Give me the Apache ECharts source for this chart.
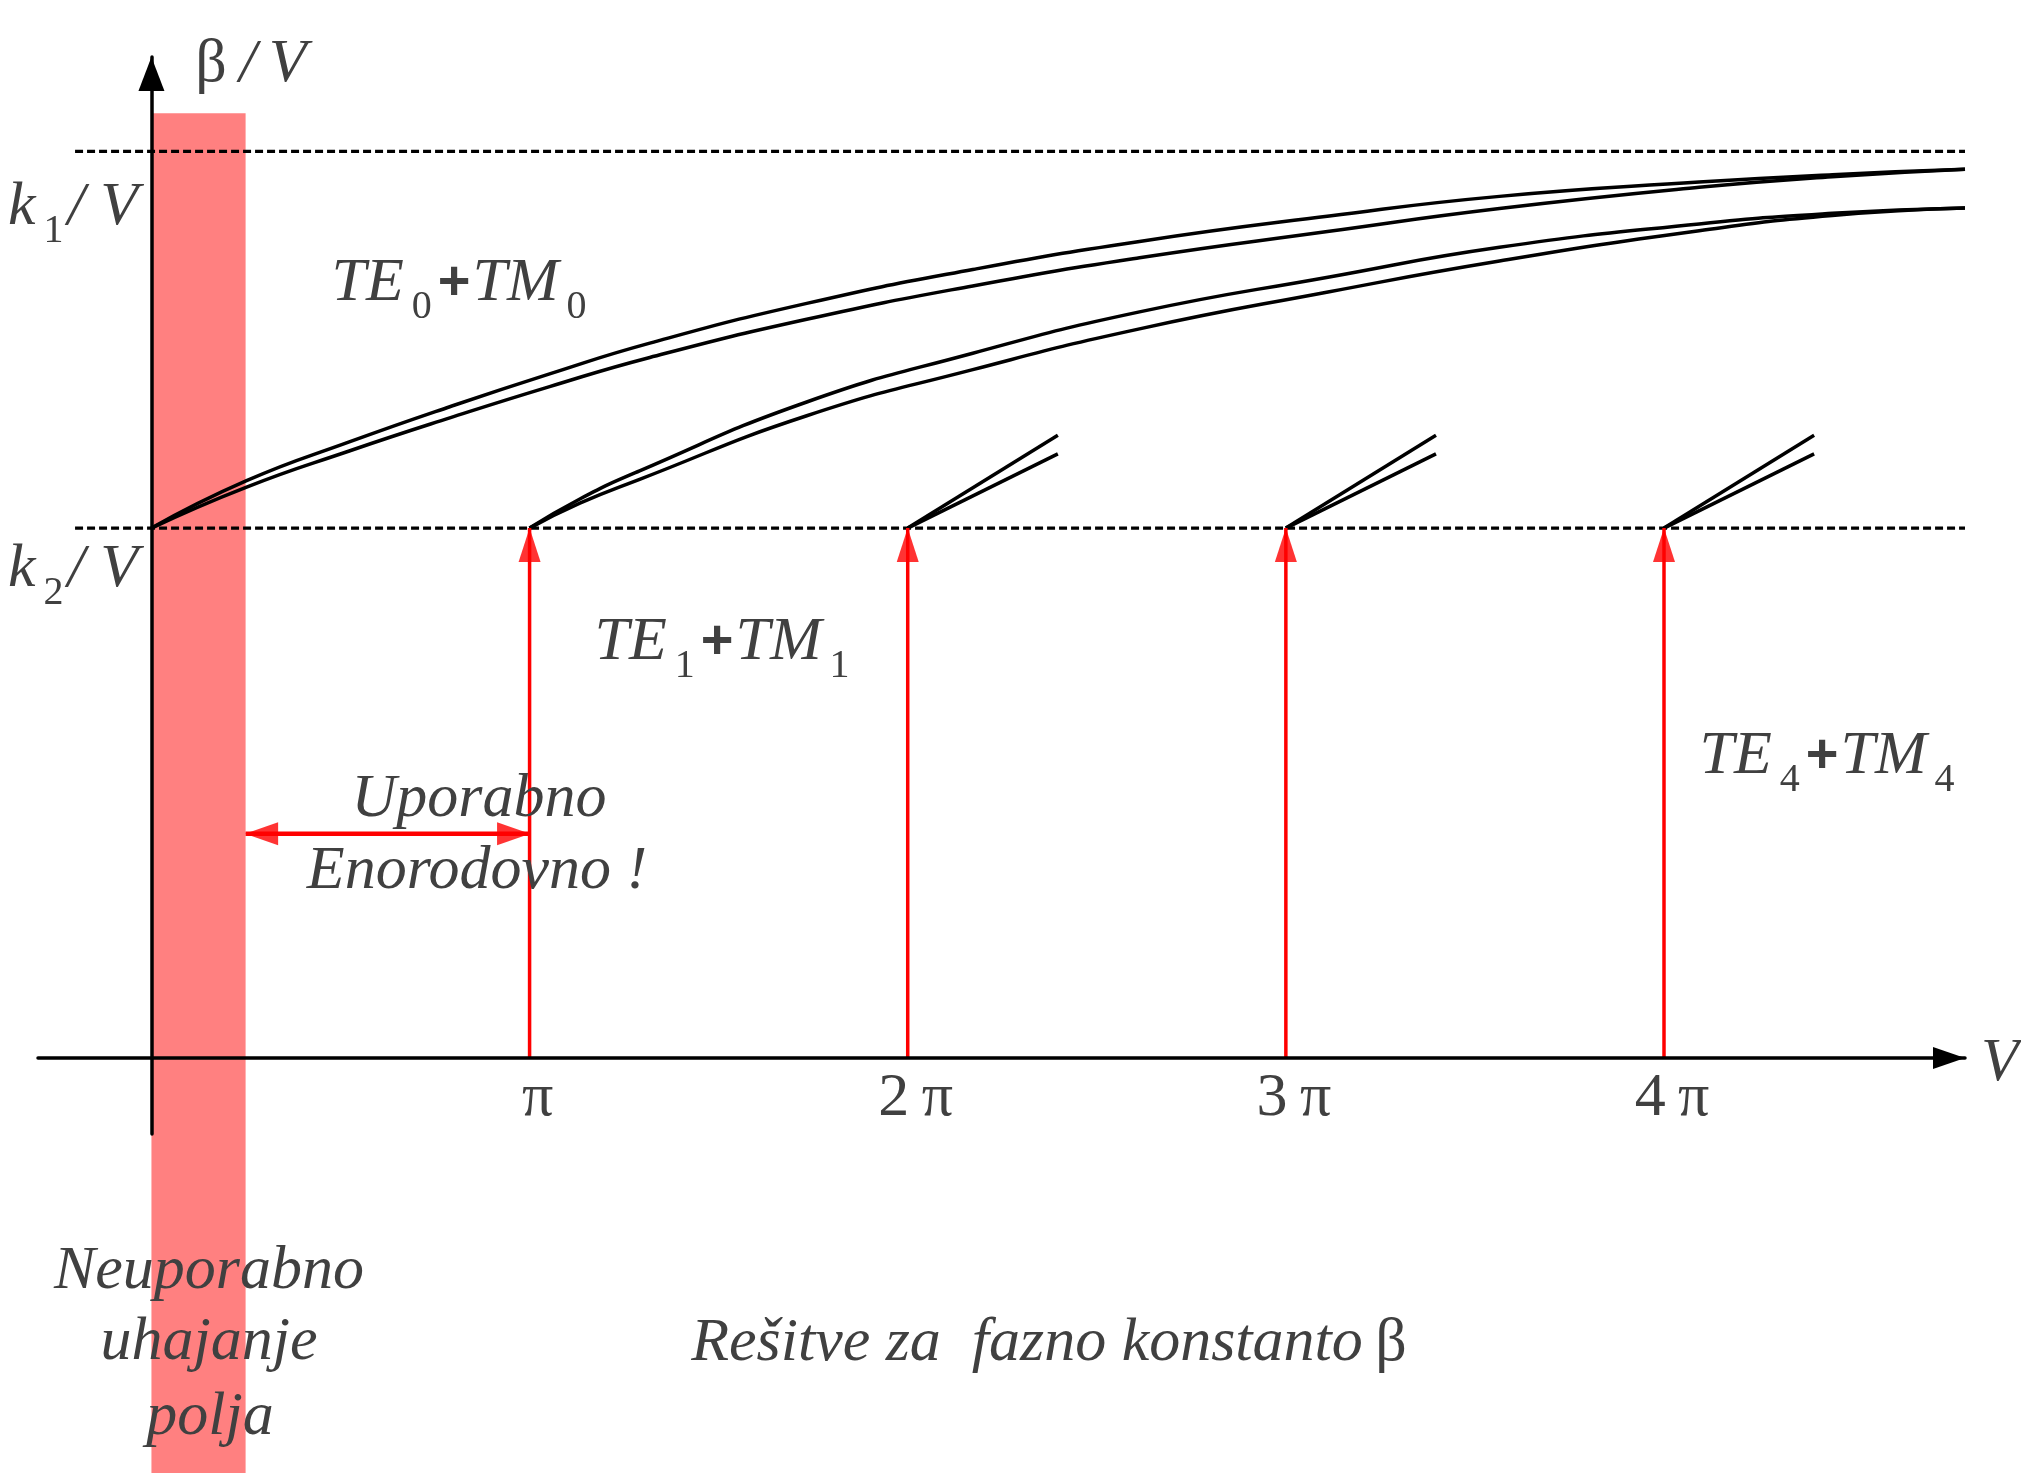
<!DOCTYPE html>
<html>
<head>
<meta charset="utf-8">
<title>Rešitve za fazno konstanto β</title>
<script src="https://cdn.jsdelivr.net/npm/echarts@6/dist/echarts.min.js"></script>
<style>
    html, body { margin: 0; padding: 0; background: #fff; }
    #chart { width: 2021px; height: 1473px; }
</style>
</head>
<body>
<div id="chart"></div>
<script>
// V axis in units of pi
var vTicks = [1, 2, 3, 4];
var vTickLabels = ['π', '2\u2009π', '3\u2009π', '4\u2009π'];

// beta/V levels (k2/V taken as 1)
var k1Level = 1.711;
var k2Level = 1.0;
var levelSpan = [-0.202, 4.796];

// TE0 + TM0 pair
var mode0V = [0, 0.250, 0.525, 0.789, 1.053, 1.318, 1.733, 2.172, 2.613, 3.115, 3.565, 4.093, 4.445, 4.796];
var te0Beta = [1.000, 1.089, 1.163, 1.229, 1.291, 1.349, 1.424, 1.488, 1.541, 1.589, 1.626, 1.653, 1.667, 1.677];
var tm0Beta = [1.000, 1.077, 1.146, 1.208, 1.267, 1.322, 1.394, 1.457, 1.510, 1.560, 1.603, 1.643, 1.663, 1.677];

// TE1 + TM1 pair
var mode1V = [1.000, 1.133, 1.291, 1.733, 2.172, 2.613, 3.115, 3.565, 4.093, 4.445, 4.796];
var te1Beta = [1.000, 1.055, 1.108, 1.238, 1.330, 1.408, 1.474, 1.530, 1.574, 1.594, 1.604];
var tm1Beta = [1.000, 1.047, 1.092, 1.212, 1.299, 1.376, 1.446, 1.504, 1.561, 1.590, 1.604];

// higher modes: only the start is drawn
var stubStartV = [2, 3, 4];
var stubLenV = 0.397;
var stubTeBeta = 1.175;
var stubTmBeta = 1.140;

// leakage band and the single mode range
var leakV = [0, 0.249];
var leakBeta = [-0.783, 1.783];
var singleModeBeta = 0.423;

var ink = '#404040';
var serif = "'Liberation Serif', 'Times New Roman', serif";

function pairs(xs, ys) {
    var out = [];
    for (var i = 0; i < xs.length; i++) {
        out.push([xs[i], ys[i]]);
    }
    return out;
}

function blackLine(data, dashed) {
    return {
        type: 'line',
        data: data,
        symbol: 'none',
        smooth: dashed ? false : 0.5,
        clip: false,
        z: 3,
        lineStyle: {color: '#000', width: dashed ? 3.2 : 3.5, type: dashed ? [8, 4] : 'solid'}
    };
}

function redLine(data, w) {
    return {
        type: 'line',
        data: data,
        symbol: 'none',
        clip: false,
        z: 4,
        lineStyle: {color: '#ff0000', width: w}
    };
}

var series = [];

// leakage band
series.push({
    type: 'custom',
    z: 1,
    silent: true,
    clip: false,
    encode: {x: [0, 2], y: [1, 3]},
    data: [[leakV[0], leakBeta[0], leakV[1], leakBeta[1]]],
    renderItem: function (params, api) {
        var p0 = api.coord([api.value(0), api.value(3)]);
        var p1 = api.coord([api.value(2), api.value(1)]);
        return {
            type: 'rect',
            shape: {x: p0[0], y: p0[1], width: p1[0] - p0[0], height: p1[1] - p0[1]},
            style: {fill: '#ff8080'}
        };
    }
});

// k1/V and k2/V levels
series.push(blackLine([[levelSpan[0], k1Level], [levelSpan[1], k1Level]], true));
series.push(blackLine([[levelSpan[0], k2Level], [levelSpan[1], k2Level]], true));

// mode curves
series.push(blackLine(pairs(mode0V, te0Beta)));
series.push(blackLine(pairs(mode0V, tm0Beta)));
series.push(blackLine(pairs(mode1V, te1Beta)));
series.push(blackLine(pairs(mode1V, tm1Beta)));
for (var i = 0; i < stubStartV.length; i++) {
    var v0 = stubStartV[i];
    series.push(blackLine([[v0, k2Level], [v0 + stubLenV, stubTeBeta]]));
    series.push(blackLine([[v0, k2Level], [v0 + stubLenV, stubTmBeta]]));
}

// red cutoff arrows
for (var j = 0; j < vTicks.length; j++) {
    series.push(redLine([[vTicks[j], 0], [vTicks[j], k2Level]], 3.5));
}
series.push({
    type: 'scatter',
    data: vTicks.map(function (v) { return [v, k2Level]; }),
    symbol: 'triangle',
    symbolSize: [22, 34],
    symbolOffset: [0, 17],
    clip: false,
    z: 5,
    itemStyle: {color: '#ff0000'}
});

// single mode range arrow
series.push(redLine([[leakV[1], singleModeBeta], [vTicks[0], singleModeBeta]], 4.5));
series.push({
    type: 'scatter',
    data: [[leakV[1], singleModeBeta]],
    symbol: 'path://M3,0L0,1L3,2Z',
    symbolSize: [33, 23],
    symbolOffset: [16, 0],
    clip: false,
    z: 5,
    itemStyle: {color: '#ff0000'}
});
series.push({
    type: 'scatter',
    data: [[vTicks[0], singleModeBeta]],
    symbol: 'path://M0,0L3,1L0,2Z',
    symbolSize: [33, 23],
    symbolOffset: [-16, 0],
    clip: false,
    z: 5,
    itemStyle: {color: '#ff0000'}
});

// texts
var rich = {
    i: {fontFamily: serif, fontStyle: 'italic', fontSize: 62, fill: ink, verticalAlign: 'middle'},
    r: {fontFamily: serif, fontSize: 62, fill: ink, verticalAlign: 'middle'},
    b: {fontFamily: "'Liberation Sans', Arial, sans-serif", fontWeight: 'bold', fontSize: 56, fill: ink, verticalAlign: 'middle', padding: [0, 2, 0, 2]},
    s: {fontFamily: serif, fontSize: 40, fill: ink, verticalAlign: 'middle', padding: [46, 4, 0, 8]}
};

var notes = [
    {x: 251, y: 65, text: '{r|β}{i|\u2009/\u2009V}'},
    {x: 73, y: 208, text: '{i|k}{s|1}{i|/ V}'},
    {x: 73, y: 570, text: '{i|k}{s|2}{i|/ V}'},
    {x: 461, y: 284, text: '{i|TE}{s|0}{b|+}{i|TM}{s|0}'},
    {x: 724, y: 643, text: '{i|TE}{s|1}{b|+}{i|TM}{s|1}'},
    {x: 1829, y: 757, text: '{i|TE}{s|4}{b|+}{i|TM}{s|4}'},
    {x: 479, y: 800, text: '{i|Uporabno}'},
    {x: 477, y: 872, text: '{i|Enorodovno !}'},
    {x: 209, y: 1272, text: '{i|Neuporabno}'},
    {x: 209, y: 1343, text: '{i|uhajanje}'},
    {x: 210, y: 1418, text: '{i|polja}'},
    {x: 1049, y: 1344, text: '{i|Rešitve za  fazno konstanto}{r|\u2009β}'},
    {x: 2000, y: 1064, text: '{i|V}'}
];

var graphics = notes.map(function (n) {
    return {
        type: 'text',
        x: n.x,
        y: n.y,
        z: 100,
        silent: true,
        style: {
            text: n.text,
            rich: rich,
            align: 'center',
            verticalAlign: 'middle',
            fontFamily: serif,
            fontSize: 62,
            fill: ink
        }
    };
});

var myChart = echarts.init(document.getElementById('chart'), null, {renderer: 'canvas'});
var option = {
    animation: false,
    backgroundColor: '#fff',
    grid: {left: 38, right: 56, top: 57, bottom: 339, containLabel: false, outerBoundsMode: 'none'},
    xAxis: {
        type: 'value',
        min: -0.3,
        max: 4.796,
        z: 10,
        axisLine: {
            show: true,
            onZero: true,
            symbol: ['none', 'triangle'],
            symbolSize: [22, 32],
            symbolOffset: [0, -16],
            lineStyle: {color: '#000', width: 3.5}
        },
        axisTick: {show: false},
        splitLine: {show: false},
        axisLabel: {
            customValues: vTicks,
            formatter: function (v) {
                var k = vTicks.indexOf(v);
                return k < 0 ? '' : vTickLabels[k];
            },
            fontFamily: serif,
            fontSize: 62,
            color: ink,
            margin: -66,
            padding: [0, 0, 0, 16]
        }
    },
    yAxis: {
        type: 'value',
        min: -0.1434,
        max: 1.889,
        z: 10,
        axisLine: {
            show: true,
            onZero: true,
            symbol: ['none', 'triangle'],
            symbolSize: [26, 34],
            symbolOffset: [0, -17],
            lineStyle: {color: '#000', width: 3.5}
        },
        axisTick: {show: false},
        splitLine: {show: false},
        axisLabel: {show: false}
    },
    graphic: graphics,
    series: series
};
myChart.setOption(option);
</script>
</body>
</html>
